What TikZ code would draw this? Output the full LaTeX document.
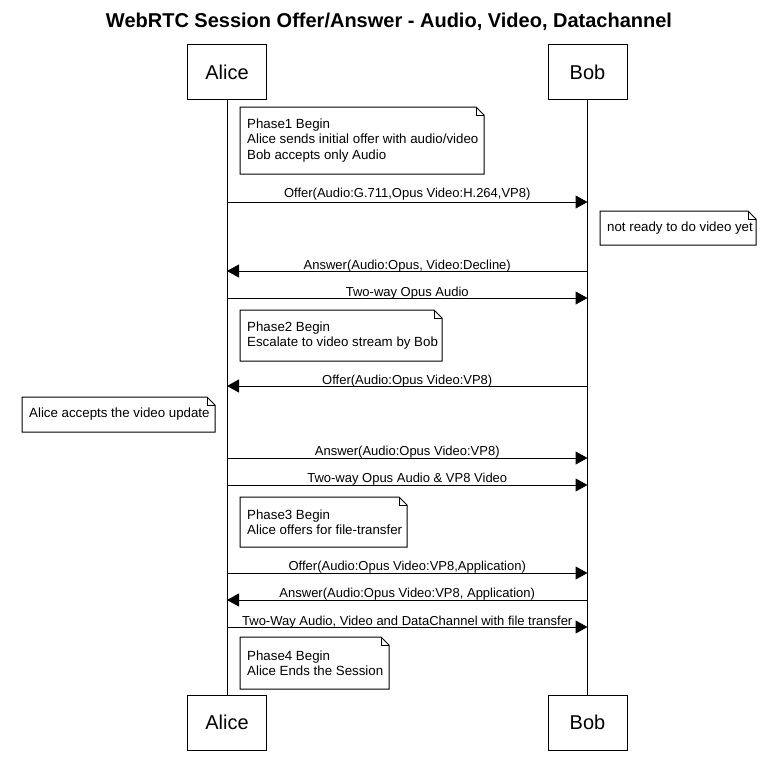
\documentclass[tikz,border=0pt]{standalone}
\usepackage{fontspec}
\setmainfont{Liberation Sans}
\usetikzlibrary{arrows.meta}
\tikzset{
  actor/.style={draw, line width=1pt, minimum width=79pt, minimum height=55pt, inner sep=0pt, font=\fontsize{20}{22}\selectfont},
  lifeline/.style={line width=1pt},
  msg/.style={line width=1pt, -{Triangle[length=12pt,width=13pt]}},
  lbl/.style={font=\fontsize{13}{15}\selectfont, inner sep=0pt},
  notebg/.style={draw, line width=1pt, fill=white},
  notetext/.style={font=\fontsize{13.3}{15.5}\selectfont, align=left, inner sep=0pt, anchor=west},
  titlefont/.style={font=\bfseries\fontsize{20}{24}\selectfont}
}
\newcommand\mynote[6]{%
  \draw[notebg] (#2,#3) -- (#4-8,#3) -- (#4,#3+8) -- (#4,#5) -- (#2,#5) -- cycle;
  \draw[line width=1pt] (#4-8,#3) -- (#4-8,#3+8) -- (#4,#3+8);
  \node[notetext] (#1) at (#2+7,{(#3+#5)/2}) {#6};}
\begin{document}
\begin{tikzpicture}[x=1pt,y=-1pt]
\useasboundingbox (0,0) rectangle (777,771);
\node[titlefont] (title) at (389,22) {WebRTC Session Offer/Answer - Audio, Video, Datachannel};
\node[actor] (aliceT) at (227,72) {Alice};
\node[actor] (bobT) at (587.5,72) {Bob};
\node[actor] (aliceB) at (227,722.5) {Alice};
\node[actor] (bobB) at (587.5,722.5) {Bob};
\draw[lifeline] (aliceT.south) -- (aliceB.north);
\draw[lifeline] (bobT.south) -- (bobB.north);
% coordinates on lifelines
\foreach \n/\y in {1/202,2/271,3/298,4/386,5/458,6/485,7/573,8/600,9/627}{
  \coordinate (a\n) at (227,\y);
  \coordinate (b\n) at (587.5,\y);
}
\draw[msg] (a1) -- node[lbl, above=1pt] {Offer(Audio:G.711,Opus Video:H.264,VP8)} (b1);
\draw[msg] (b2) -- node[lbl, above=-1.5pt] {Answer(Audio:Opus, Video:Decline)} (a2);
\draw[msg] (a3) -- node[lbl, above=-1.5pt] {Two-way Opus Audio} (b3);
\draw[msg] (b4) -- node[lbl, above=-1.5pt] {Offer(Audio:Opus Video:VP8)} (a4);
\draw[msg] (a5) -- node[lbl, above=-1pt] {Answer(Audio:Opus Video:VP8)} (b5);
\draw[msg] (a6) -- node[lbl, above=-1pt] {Two-way Opus Audio \& VP8 Video} (b6);
\draw[msg] (a7) -- node[lbl, above=-1pt] {Offer(Audio:Opus Video:VP8,Application)} (b7);
\draw[msg] (b8) -- node[lbl, above=-1pt] {Answer(Audio:Opus Video:VP8, Application)} (a8);
\draw[msg] (a9) -- node[lbl, above=-1.5pt] {Two-Way Audio, Video and DataChannel with file transfer} (b9);
\mynote{n1}{240}{107}{484}{174}{Phase1 Begin\\Alice sends initial offer with audio/video\\Bob accepts only Audio}
\mynote{n2}{600}{211}{756}{245}{not ready to do video yet}
\mynote{n3}{240}{310}{442}{361}{Phase2 Begin\\Escalate to video stream by Bob}
\mynote{n4}{22}{397}{215}{432}{Alice accepts the video update}
\mynote{n5}{240}{497}{407}{547}{Phase3 Begin\\Alice offers for file-transfer}
\mynote{n6}{240}{637}{389}{689}{Phase4 Begin\\Alice Ends the Session}
\end{tikzpicture}
\end{document}
